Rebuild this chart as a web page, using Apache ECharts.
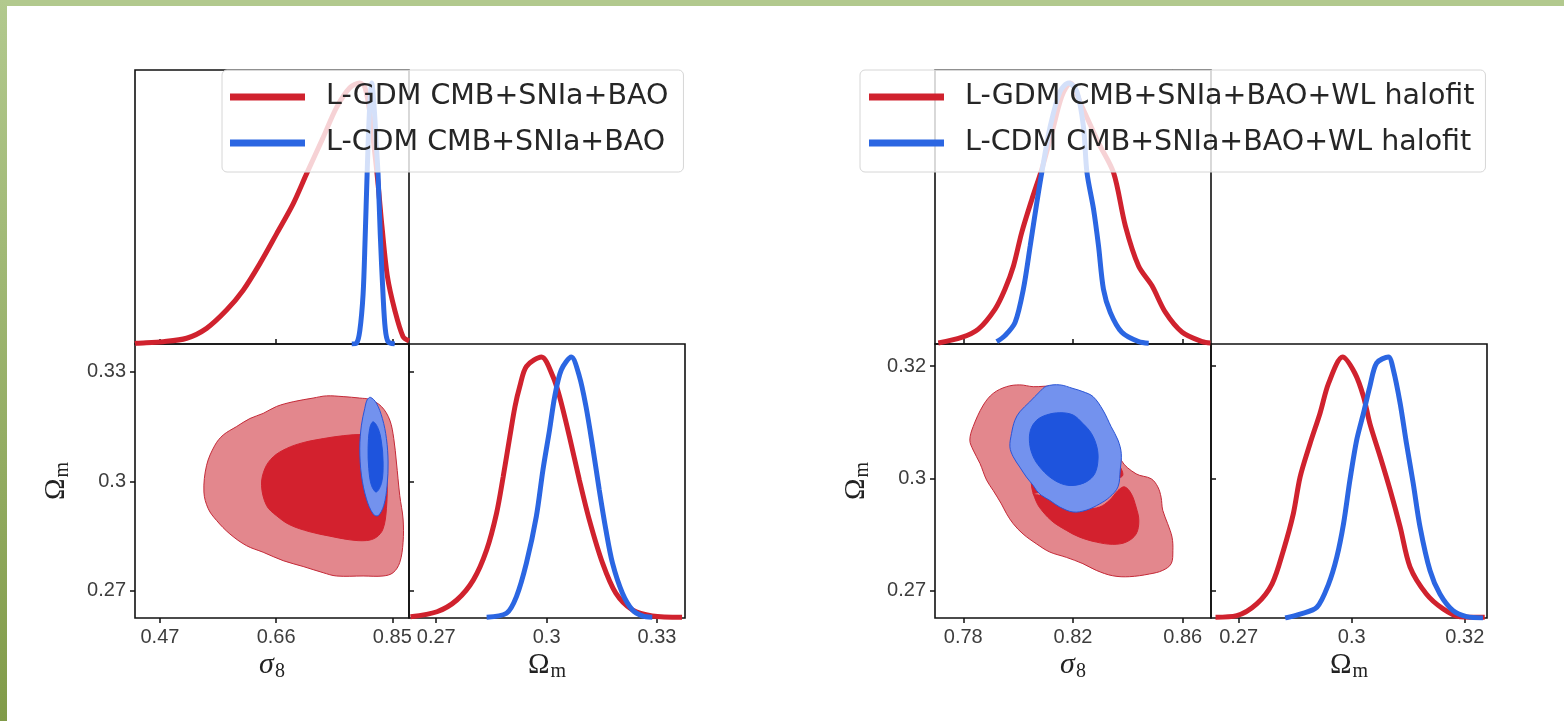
<!DOCTYPE html>
<html><head><meta charset="utf-8">
<script src="https://cdn.jsdelivr.net/npm/echarts@6/dist/echarts.min.js"></script>
<style>html,body{margin:0;padding:0;background:#fff}#c{width:1564px;height:721px}</style>
</head><body><div id="c"></div>
<script>
// ---------- tick values / labels ----------
const sig8TicksL = [0.47, 0.66, 0.85];
const sig8LabelsL = ['0.47', '0.66', '0.85'];
const omTicksL = [0.27, 0.30, 0.33];
const omLabelsL = ['0.27', '0.3', '0.33'];
const sig8TicksR = [0.78, 0.82, 0.86];
const sig8LabelsR = ['0.78', '0.82', '0.86'];
const omTicksR = [0.27, 0.295, 0.32];
const omLabelsR = ['0.27', '0.3', '0.32'];

// ---------- legend names ----------
const namesL = ['L-GDM CMB+SNIa+BAO', 'L-CDM CMB+SNIa+BAO'];
const namesR = ['L-GDM CMB+SNIa+BAO+WL halofit', 'L-CDM CMB+SNIa+BAO+WL halofit'];

// ---------- left triangle: 1D sigma8 ----------
const gdmSig8L = [[0.4292,0.002],[0.4320,0.003],[0.4754,0.009],[0.5136,0.022],[0.5463,0.060],[0.5790,0.130],[0.6061,0.206],[0.6334,0.308],[0.6607,0.422],[0.6878,0.537],[0.7097,0.652],[0.7368,0.791],[0.7587,0.906],[0.7805,0.982],[0.7968,1.0],[0.8050,0.985],[0.8130,0.89],[0.8251,0.651],[0.8332,0.448],[0.8421,0.257],[0.8540,0.130],[0.8676,0.028],[0.8773,0.012]];
const lcdmSig8L = [[0.7837,0],[0.7914,0.003],[0.7968,0.05],[0.8022,0.19],[0.8055,0.40],[0.8088,0.651],[0.8124,0.88],[0.8164,1.0],[0.8205,0.90],[0.8237,0.77],[0.8267,0.651],[0.8303,0.42],[0.8348,0.19],[0.8384,0.06],[0.8430,0.009],[0.8540,0]];
// ---------- left triangle: 1D Omega_m ----------
const gdmOmL = [[0.2630,0.005],[0.2702,0.024],[0.2756,0.069],[0.2801,0.146],[0.2837,0.261],[0.2864,0.402],[0.2882,0.542],[0.2900,0.695],[0.2914,0.81],[0.2927,0.887],[0.2945,0.964],[0.2986,1.0],[0.3017,0.926],[0.3035,0.849],[0.3062,0.695],[0.3089,0.529],[0.3116,0.376],[0.3152,0.21],[0.3188,0.095],[0.3233,0.031],[0.3287,0.008],[0.3368,0.003]];
const lcdmOmL = [[0.2837,0.003],[0.2891,0.018],[0.2918,0.082],[0.2945,0.21],[0.2972,0.389],[0.2990,0.568],[0.3008,0.721],[0.3022,0.849],[0.3040,0.951],[0.3067,1.0],[0.3089,0.926],[0.3107,0.81],[0.3125,0.657],[0.3143,0.491],[0.3161,0.338],[0.3179,0.21],[0.3206,0.095],[0.3233,0.031],[0.3260,0.008],[0.3287,0.003]];
// ---------- left triangle: 2D contours (sigma8, Omega_m) ----------
const gdmOuterL = [[0.5419,0.2971],[0.5463,0.3044],[0.5599,0.3099],[0.5735,0.3127],[0.5953,0.3150],[0.6171,0.3172],[0.6388,0.3186],[0.6606,0.3205],[0.6879,0.3218],[0.7205,0.3228],[0.7423,0.3234],[0.7696,0.3232],[0.7968,0.3228],[0.8131,0.3224],[0.8322,0.3205],[0.8458,0.3168],[0.8524,0.3117],[0.8567,0.3053],[0.8622,0.2961],[0.8676,0.2897],[0.8676,0.2833],[0.8622,0.2778],[0.8513,0.2750],[0.8349,0.2741],[0.8023,0.2741],[0.7587,0.2741],[0.7369,0.2750],[0.7042,0.2767],[0.6715,0.2783],[0.6388,0.2806],[0.6116,0.2824],[0.5844,0.2856],[0.5626,0.2893],[0.5490,0.2925]];
const gdmInnerL = [[0.6361,0.2989],[0.6416,0.3035],[0.6552,0.3067],[0.6770,0.3090],[0.7042,0.3106],[0.7369,0.3117],[0.7696,0.3125],[0.8023,0.3128],[0.8295,0.3122],[0.8377,0.3072],[0.8415,0.3007],[0.8404,0.2925],[0.8349,0.2870],[0.8240,0.2847],[0.8077,0.2838],[0.7805,0.2840],[0.7478,0.2850],[0.7151,0.2862],[0.6824,0.2881],[0.6606,0.2906],[0.6443,0.2934]];
const lcdmOuterL = [[0.8142,0.3230],[0.8240,0.3214],[0.8338,0.3172],[0.8404,0.3117],[0.8431,0.3053],[0.8415,0.2989],[0.8360,0.2934],[0.8268,0.2906],[0.8186,0.2911],[0.8077,0.2952],[0.7995,0.3017],[0.7968,0.3090],[0.7995,0.3154],[0.8050,0.3200],[0.8088,0.3223]];
const lcdmInnerL = [[0.8186,0.3163],[0.8268,0.3145],[0.8322,0.3108],[0.8349,0.3053],[0.8327,0.2998],[0.8240,0.2971],[0.8159,0.2989],[0.8115,0.3035],[0.8104,0.3090],[0.8131,0.3145]];

// ---------- right triangle: 1D sigma8 ----------
const gdmSig8R = [[0.7709,0.004],[0.7794,0.025],[0.7855,0.057],[0.7916,0.134],[0.7952,0.210],[0.7983,0.299],[0.8013,0.427],[0.8050,0.554],[0.8086,0.669],[0.8123,0.809],[0.8159,0.949],[0.8190,1.0],[0.8232,0.911],[0.8293,0.771],[0.8348,0.656],[0.8391,0.452],[0.8439,0.299],[0.8488,0.223],[0.8537,0.121],[0.8598,0.045],[0.8671,0.009],[0.8701,0.004]];
const lcdmSig8R = [[0.7922,0.009],[0.7952,0.032],[0.7989,0.083],[0.8019,0.210],[0.8044,0.376],[0.8068,0.541],[0.8086,0.656],[0.8117,0.834],[0.8153,0.968],[0.8184,1.0],[0.8214,0.968],[0.8238,0.834],[0.8251,0.656],[0.8275,0.516],[0.8293,0.376],[0.8311,0.210],[0.8336,0.121],[0.8378,0.045],[0.8439,0.009],[0.8476,0.003]];
// ---------- right triangle: 1D Omega_m ----------
const gdmOmR = [[0.2649,0.003],[0.2696,0.009],[0.2740,0.054],[0.2774,0.131],[0.2799,0.259],[0.2821,0.40],[0.2836,0.541],[0.2858,0.669],[0.2880,0.785],[0.2899,0.90],[0.2930,1.0],[0.2957,0.938],[0.2976,0.849],[0.2990,0.746],[0.3013,0.618],[0.3035,0.49],[0.3057,0.349],[0.3079,0.195],[0.3115,0.092],[0.3152,0.035],[0.3189,0.005],[0.3244,0.003]];
const lcdmOmR = [[0.2803,0.0],[0.2836,0.015],[0.2873,0.041],[0.2899,0.131],[0.2917,0.233],[0.2932,0.362],[0.2946,0.528],[0.2961,0.682],[0.2976,0.785],[0.2990,0.887],[0.3005,0.977],[0.3031,1.0],[0.3042,0.951],[0.3057,0.823],[0.3071,0.669],[0.3086,0.515],[0.3101,0.349],[0.3123,0.182],[0.3145,0.092],[0.3174,0.028],[0.3204,0.005],[0.3240,0.0]];
// ---------- right triangle: 2D contours ----------
const gdmOuterR = [[0.7824,0.3035],[0.7836,0.3065],[0.7873,0.3113],[0.7909,0.3139],[0.7958,0.3154],[0.8006,0.3158],[0.8055,0.3154],[0.8127,0.3155],[0.8200,0.3146],[0.8273,0.3117],[0.8333,0.3065],[0.8376,0.2990],[0.8430,0.2960],[0.8485,0.2949],[0.8509,0.2931],[0.8521,0.2908],[0.8527,0.2879],[0.8545,0.2849],[0.8561,0.2819],[0.8564,0.2789],[0.8558,0.2760],[0.8527,0.2745],[0.8479,0.2737],[0.8406,0.2731],[0.8345,0.2733],[0.8285,0.2745],[0.8236,0.2760],[0.8176,0.2774],[0.8115,0.2786],[0.8067,0.2804],[0.8018,0.2826],[0.7982,0.2849],[0.7958,0.2871],[0.7939,0.2893],[0.7909,0.2923],[0.7885,0.2946],[0.7861,0.2983],[0.7836,0.3013]];
const gdmInnerR = [[0.8055,0.2916],[0.8079,0.2912],[0.8115,0.2908],[0.8152,0.2897],[0.8200,0.2886],[0.8248,0.2882],[0.8297,0.2886],[0.8333,0.2901],[0.8364,0.2923],[0.8388,0.2931],[0.8412,0.2916],[0.8430,0.2886],[0.8440,0.2856],[0.8430,0.2826],[0.8394,0.2808],[0.8345,0.2803],[0.8285,0.2808],[0.8224,0.2819],[0.8176,0.2834],[0.8127,0.2853],[0.8091,0.2875],[0.8067,0.2897],[0.8048,0.2938],[0.8061,0.2983],[0.8103,0.3027],[0.8200,0.3050],[0.8297,0.3035],[0.8358,0.2990],[0.8376,0.2953]];
const lcdmOuterR = [[0.8103,0.3155],[0.8152,0.3158],[0.8200,0.3150],[0.8236,0.3143],[0.8273,0.3132],[0.8309,0.3102],[0.8339,0.3065],[0.8364,0.3035],[0.8376,0.3005],[0.8372,0.2968],[0.8364,0.2931],[0.8333,0.2908],[0.8297,0.2893],[0.8248,0.2879],[0.8200,0.2875],[0.8152,0.2886],[0.8115,0.2901],[0.8085,0.2912],[0.8067,0.2923],[0.8055,0.2934],[0.8030,0.2953],[0.8006,0.2975],[0.7982,0.2998],[0.7970,0.3020],[0.7976,0.3050],[0.7988,0.3079],[0.8006,0.3098],[0.8042,0.3120],[0.8079,0.3143]];
const lcdmInnerR = [[0.8103,0.3091],[0.8152,0.3096],[0.8200,0.3091],[0.8236,0.3072],[0.8267,0.3050],[0.8287,0.3020],[0.8291,0.2990],[0.8279,0.2960],[0.8248,0.2942],[0.8200,0.2934],[0.8158,0.2938],[0.8115,0.2953],[0.8079,0.2975],[0.8055,0.2998],[0.8042,0.3027],[0.8045,0.3057],[0.8067,0.3079]];

// ---------- styling ----------
const RED = '#d0222e', BLUE = '#2b66e2';
const RED_LIGHT = '#e3878d', RED_DARK = '#d3212e', RED_EDGE = '#c42a38';
const BLUE_LIGHT = '#7392ee', BLUE_DARK = '#1e54dd', BLUE_EDGE = '#2a55d6';
const TICKFONT = {fontFamily: 'Liberation Sans', fontSize: 20, color: '#3d3d3d'};
const MATH = {
  a: {fontFamily: 'Liberation Serif', fontStyle: 'italic', fontSize: 30, color: '#222'},
  o: {fontFamily: 'Liberation Serif', fontSize: 29, color: '#222'},
  s: {fontFamily: 'Liberation Serif', fontSize: 20, color: '#222', padding: [14, 0, 0, 1]}
};

function fmt(ticks, labels) {
  return v => { for (let i = 0; i < ticks.length; i++) if (Math.abs(v - ticks[i]) < 1e-7) return labels[i]; return ''; };
}
const tickStyle = {lineStyle: {color: '#111', width: 1.5}, length: 5};

function gridBox(left, top, width, height) {
  return {left, top, width, height, show: true, borderColor: '#111', borderWidth: 1.6, backgroundColor: 'transparent', containLabel: false};
}
function valAxis(o) {
  return Object.assign({type: 'value', axisLine: {show: false}, splitLine: {show: false}, scale: false}, o);
}
function labelledX(grid, min, max, ticks, labels, name) {
  return valAxis({gridIndex: grid, min, max, position: 'bottom',
    axisTick: Object.assign({customValues: ticks, inside: false}, tickStyle),
    axisLabel: Object.assign({customValues: ticks, formatter: fmt(ticks, labels), margin: 9}, TICKFONT),
    name, nameLocation: 'middle', nameGap: 30, nameTextStyle: {rich: MATH}});
}
function labelledY(grid, min, max, ticks, labels, name) {
  return valAxis({gridIndex: grid, min, max, position: 'left',
    axisTick: Object.assign({customValues: ticks, inside: false}, tickStyle),
    axisLabel: Object.assign({customValues: ticks, formatter: fmt(ticks, labels), margin: 9}, TICKFONT),
    name, nameLocation: 'middle', nameGap: 62, nameRotate: 90, nameTextStyle: {rich: MATH}});
}
function tickOnly(grid, min, max, ticks, position, inside) {
  return valAxis({gridIndex: grid, min, max, position,
    axisTick: Object.assign({customValues: ticks, inside}, tickStyle),
    axisLabel: {show: false}});
}
function densAxis(grid) { return {type: 'value', gridIndex: grid, min: 0, max: 1.05, show: false}; }

function line(name, data, color, xi, yi) {
  return {type: 'line', name, data, xAxisIndex: xi, yAxisIndex: yi, color,
    symbol: 'none', showSymbol: false, smooth: 0.3, clip: true,
    lineStyle: {width: 5, color}, itemStyle: {color}, z: 3, silent: true, animation: false};
}
function contour(name, pts, fill, stroke, xi, yi, z) {
  return {type: 'custom', name, xAxisIndex: xi, yAxisIndex: yi, data: pts, encode: {x: 0, y: 1},
    renderItem: (params, api) => {
      if (params.dataIndex !== 0) return null;
      const coords = pts.map(p => api.coord(p));
      return {type: 'polygon', shape: {points: coords, smooth: 0.35},
        style: {fill, stroke, lineWidth: 1}};
    }, z, silent: true, animation: false};
}

const S8L = [0.4292, 0.8773], OML = [0.2626, 0.3376];
const S8R = [0.7697, 0.8703], OMR = [0.2639, 0.3249];

const option = {
  backgroundColor: '#ffffff',
  animation: false,
  grid: [
    gridBox(135, 70, 274, 274),   // 0 left top 1D sigma8
    gridBox(135, 344, 274, 274),  // 1 left 2D
    gridBox(409, 344, 276, 274),  // 2 left 1D Omega_m
    gridBox(935, 70, 276, 274),   // 3 right top 1D sigma8
    gridBox(935, 344, 276, 274),  // 4 right 2D
    gridBox(1211, 344, 276, 274)  // 5 right 1D Omega_m
  ],
  xAxis: [
    tickOnly(0, S8L[0], S8L[1], sig8TicksL, 'bottom', true),
    labelledX(1, S8L[0], S8L[1], sig8TicksL, sig8LabelsL, '{a|σ}{s|8}'),
    labelledX(2, OML[0], OML[1], omTicksL, omLabelsL, '{o|Ω}{s|m}'),
    tickOnly(3, S8R[0], S8R[1], sig8TicksR, 'bottom', true),
    labelledX(4, S8R[0], S8R[1], sig8TicksR, sig8LabelsR, '{a|σ}{s|8}'),
    labelledX(5, OMR[0], OMR[1], omTicksR, omLabelsR, '{o|Ω}{s|m}')
  ],
  yAxis: [
    densAxis(0),
    labelledY(1, OML[0], OML[1], omTicksL, omLabelsL, '{o|Ω}{s|m}'),
    tickOnly(1, OML[0], OML[1], omTicksL, 'right', false),
    densAxis(2),
    densAxis(3),
    labelledY(4, OMR[0], OMR[1], omTicksR, omLabelsR, '{o|Ω}{s|m}'),
    tickOnly(4, OMR[0], OMR[1], omTicksR, 'right', false),
    densAxis(5)
  ],
  legend: [
    {data: namesL, orient: 'vertical', left: 222, top: 70, padding: [10, 15, 12, 8],
     itemWidth: 75, itemHeight: 7, itemGap: 12, icon: 'rect', selectedMode: false,
     backgroundColor: 'rgba(255,255,255,0.8)', borderColor: '#d6d6d6', borderWidth: 1, borderRadius: 5,
     textStyle: {fontFamily: 'DejaVu Sans', fontSize: 28.5, color: '#262626', lineHeight: 34, padding: [0, 0, 0, 16]}, z: 10},
    {data: namesR, orient: 'vertical', left: 860, top: 70, padding: [10, 11, 12, 9],
     itemWidth: 75, itemHeight: 7, itemGap: 12, icon: 'rect', selectedMode: false,
     backgroundColor: 'rgba(255,255,255,0.8)', borderColor: '#d6d6d6', borderWidth: 1, borderRadius: 5,
     textStyle: {fontFamily: 'DejaVu Sans', fontSize: 28.5, color: '#262626', lineHeight: 34, padding: [0, 0, 0, 16]}, z: 10}
  ],
  graphic: [
    {type: 'rect', shape: {x: 0, y: 0, width: 1564, height: 6}, style: {fill: '#b2c98e'}, z: 100, silent: true},
    {type: 'rect', shape: {x: 0, y: 0, width: 7, height: 721},
     style: {fill: new echarts.graphic.LinearGradient(0, 0, 0, 1, [{offset: 0, color: '#b2c98e'}, {offset: 1, color: '#819b49'}])}, z: 100, silent: true}
  ],
  series: [
    // left triangle
    line(namesL[0], gdmSig8L, RED, 0, 0),
    line(namesL[1], lcdmSig8L, BLUE, 0, 0),
    contour('gdm95L', gdmOuterL, RED_LIGHT, RED_EDGE, 1, 1, 1),
    contour('gdm68L', gdmInnerL, RED_DARK, RED_DARK, 1, 1, 2),
    contour('lcdm95L', lcdmOuterL, BLUE_LIGHT, BLUE_EDGE, 1, 1, 3),
    contour('lcdm68L', lcdmInnerL, BLUE_DARK, BLUE_DARK, 1, 1, 4),
    line('gdmOmL', gdmOmL, RED, 2, 3),
    line('lcdmOmL', lcdmOmL, BLUE, 2, 3),
    // right triangle
    line(namesR[0], gdmSig8R, RED, 3, 4),
    line(namesR[1], lcdmSig8R, BLUE, 3, 4),
    contour('gdm95R', gdmOuterR, RED_LIGHT, RED_EDGE, 4, 5, 1),
    contour('gdm68R', gdmInnerR, RED_DARK, RED_DARK, 4, 5, 2),
    contour('lcdm95R', lcdmOuterR, BLUE_LIGHT, BLUE_EDGE, 4, 5, 3),
    contour('lcdm68R', lcdmInnerR, BLUE_DARK, BLUE_DARK, 4, 5, 4),
    line('gdmOmR', gdmOmR, RED, 5, 7),
    line('lcdmOmR', lcdmOmR, BLUE, 5, 7)
  ]
};
const chart = echarts.init(document.getElementById('c'), null, {renderer: 'canvas'});
chart.setOption(option);
</script>
</body></html>
